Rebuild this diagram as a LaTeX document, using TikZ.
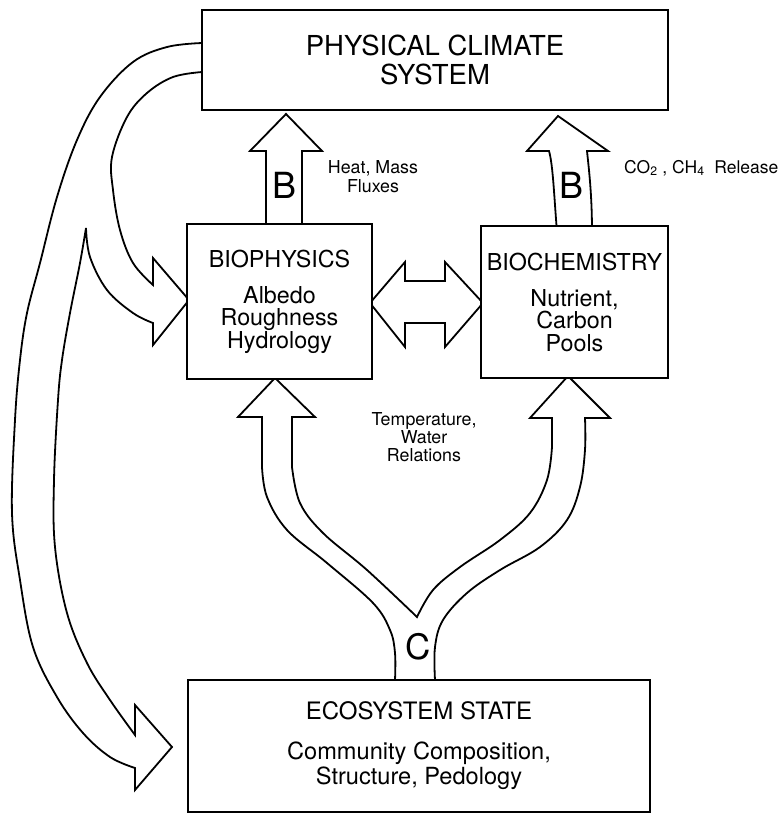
\documentclass[tikz,border=0pt]{standalone}
\usepackage{fontspec}
\setmainfont{TeX Gyre Heros}
\pgfdeclarelayer{back}
\pgfsetlayers{back,main}
\begin{document}
\begin{tikzpicture}[x=1pt,y=-1pt,
  box/.style={draw, line width=2.4pt, fill=white, align=center, inner sep=0pt},
  blockarrow/.style={draw, line width=1.8pt, fill=white, line join=miter},
  lbl/.style={align=center, inner sep=0pt},
  sm/.style={smooth, tension=0.6}]
\useasboundingbox (0,0) rectangle (777,814);

% boxes
\node[box, minimum width=466pt, minimum height=100pt,
      font=\fontsize{27.5}{29}\selectfont] (phys) at (435,60) {PHYSICAL CLIMATE\\SYSTEM};
\node[box, minimum width=185pt, minimum height=155pt,
      font=\fontsize{23.3}{22.5}\selectfont] (bioph) at (279.5,301.5)
      {BIOPHYSICS\\[13.5pt]Albedo\\Roughness\\Hydrology};
\node[box, minimum width=187pt, minimum height=152pt,
      font=\fontsize{23.3}{22.5}\selectfont] (bioch) at (574.5,302)
      {BIOCHEMISTRY\\[13.5pt]Nutrient,\\Carbon\\Pools};
\node[box, minimum width=462pt, minimum height=132pt,
      font=\fontsize{24}{25}\selectfont] (eco) at (419,746)
      {ECOSYSTEM STATE\\[15pt]{\fontsize{23.6}{25}\selectfont Community Composition,}\\
       {\fontsize{23.6}{25}\selectfont Structure, Pedology}};

\begin{pgfonlayer}{back}
% feedback from the climate system to biophysics and to the ecosystem
\draw[blockarrow] (210,43) -- plot[sm] coordinates {(202,43) (167,47) (133,62) (100,97) (77,140)
    (57,197) (40,263) (27,313) (20,360) (15,420) (12,513) (20,580) (33,647) (57,697)
    (83,733) (110,757) (135,768)}
  -- (135,790) -- (172,747) -- (135,705) -- (135,735)
  -- plot[sm] coordinates {(135,735) (110,700) (87,663) (67,613) (55,547) (54,480)
    (58,400) (62,360) (70,313) (80,263) (86,228)}
  -- plot[sm] coordinates {(86,228) (90,257) (107,290) (133,313) (153,323)}
  -- (153,345) -- (189,300) -- (153,258) -- (153,285)
  -- plot[sm] coordinates {(153,285) (133,263) (120,230) (113,190) (112,157) (127,117)
    (147,93) (173,77) (202,72)} -- (210,72);

% B: heat and mass fluxes
\draw[blockarrow] (266,230) -- (266,151) -- (250,151) -- (286,114) -- (322,151)
  -- (302,151) -- (302,230);

% B: CO2, CH4 release
\draw[blockarrow] (557,232) .. controls (554,195) and (553,165) .. (549,151)
  -- (527,151) -- (558,116) -- (608,151) -- (587,151)
  .. controls (589,170) and (592,195) .. (592,232);

% biophysics <-> biochemistry
\draw[blockarrow] (370,303) -- (405,262) -- (405,281) -- (445,281) -- (445,262)
  -- (483,303) -- (445,347) -- (445,323) -- (405,323) -- (405,347) -- cycle;

% C: ecosystem state to biophysics and biochemistry
\draw[blockarrow] (395,686) -- plot[sm] coordinates {(395,680) (395,653) (390,630) (373,603)
    (327,563) (287,530) (267,497) (262,467)}
  -- (262,417) -- (238,417) -- (275,378) -- (315,417) -- (292,417) -- (292,467)
  -- plot[sm] coordinates {(292,467) (300,503) (323,533) (367,570) (417,617)}
  -- plot[sm] coordinates {(417,617) (433,590) (460,567) (500,540) (530,513) (547,480) (552,447)}
  -- (552,418) -- (530,418) -- (568,376) -- (610,418) -- (585,418)
  -- plot[sm] coordinates {(585,418) (585,450) (580,487) (567,520) (540,547) (500,570)
    (467,593) (443,620) (435,647) (435,680)} -- (435,686);
\end{pgfonlayer}

% labels
\node[font=\fontsize{36}{36}\selectfont] (bl) at (285,185) {B};
\node[font=\fontsize{36}{36}\selectfont] (br) at (571,185) {B};
\node[font=\fontsize{35}{35}\selectfont] (c) at (418,647) {C};
\node[lbl, font=\fontsize{17.8}{19}\selectfont] (heat) at (373,177) {Heat, Mass\\Fluxes};
\node[lbl, anchor=west, font=\fontsize{17.5}{19}\selectfont] (gas) at (624,168)
  {CO\textsubscript{2} , CH\textsubscript{4}\ \ Release};
\node[lbl, font=\fontsize{17.8}{18}\selectfont] (temp) at (424,437)
  {Temperature,\\Water\\Relations};
\end{tikzpicture}
\end{document}
